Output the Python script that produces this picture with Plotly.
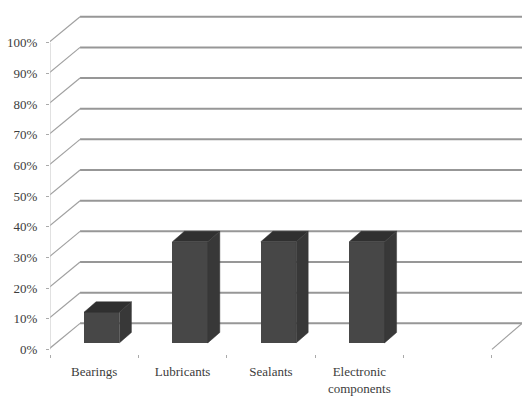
import plotly.graph_objects as go

# Data
categories = ["Bearings", "Lubricants", "Sealants", "Electronic<br>components"]
shares = [10, 33, 33, 33]
tick_values = [0, 10, 20, 30, 40, 50, 60, 70, 80, 90, 100]
tick_labels = [f"{v}%" for v in tick_values]

# Pseudo-3D geometry (in data units)
n_slots = 5            # category slots along the floor (last one empty)
depth_x = 0.34         # horizontal shift of the back wall
depth_y = 8.5          # vertical shift of the back wall
bar_width = 0.4
bar_front = 0.25       # depth fraction where the column front sits
bar_depth = 0.4        # depth fraction occupied by a column

FRONT = "#474747"
TOP = "#303030"
SIDE = "#383838"
GRID = "#979797"
TEXT = "#3c3c3c"

fig = go.Figure()

# Back-wall gridlines and side-wall diagonals
for v in tick_values:
    fig.add_shape(type="line", layer="below",
                  x0=depth_x, x1=n_slots + depth_x,
                  y0=v + depth_y, y1=v + depth_y,
                  line=dict(color=GRID, width=2))
    fig.add_shape(type="line", layer="below",
                  x0=-0.03, x1=depth_x, y0=v - 0.3, y1=v + depth_y,
                  line=dict(color="#a0a0a0", width=1.2))
# right edge of the floor
fig.add_shape(type="line", layer="below",
              x0=n_slots, x1=n_slots + depth_x, y0=0, y1=depth_y,
              line=dict(color="#a0a0a0", width=1.2))
# front vertical axis
fig.add_shape(type="line", layer="below",
              x0=0, x1=0, y0=0, y1=tick_values[-1],
              line=dict(color="#c4c4c4", width=1))

# Column front faces
centers = [i + 0.5 + bar_front * depth_x for i in range(len(categories))]
base = bar_front * depth_y
fig.add_trace(go.Bar(
    x=centers, y=shares, base=base, width=bar_width,
    marker=dict(color=FRONT, line=dict(width=0)),
    hoverinfo="skip", showlegend=False,
))

# Column top and side faces
dx = bar_depth * depth_x
dy = bar_depth * depth_y
for c, v in zip(centers, shares):
    xl, xr = c - bar_width / 2, c + bar_width / 2
    top = base + v
    fig.add_trace(go.Scatter(
        x=[xl, xr, xr + dx, xl + dx, xl],
        y=[top, top, top + dy, top + dy, top],
        fill="toself", fillcolor=TOP, mode="lines",
        line=dict(color=TOP, width=0.5),
        hoverinfo="skip", showlegend=False,
    ))
    fig.add_trace(go.Scatter(
        x=[xr, xr, xr + dx, xr + dx, xr],
        y=[base, top, top + dy, base + dy, base],
        fill="toself", fillcolor=SIDE, mode="lines",
        line=dict(color=SIDE, width=0.5),
        hoverinfo="skip", showlegend=False,
    ))

fig.update_layout(
    width=522, height=399,
    margin=dict(l=50, r=0, t=6, b=45),
    paper_bgcolor="white", plot_bgcolor="white",
    font=dict(family="Liberation Serif, DejaVu Serif, serif", size=13, color=TEXT),
    bargap=0,
)
fig.update_xaxes(
    range=[0, n_slots + depth_x],
    tickvals=[i + 0.5 for i in range(len(categories))],
    ticktext=categories,
    showgrid=False, zeroline=False, showline=False,
    ticks="", ticklabelstandoff=8,
    minor=dict(ticks="outside", ticklen=3, tickcolor="#aaaaaa",
               tick0=0, dtick=1, showgrid=False),
)
fig.update_yaxes(
    range=[-1.5, 112],
    tickvals=tick_values, ticktext=tick_labels,
    showgrid=False, zeroline=False, showline=False,
    ticks="outside", ticklen=3, tickcolor="#aaaaaa",
    ticklabelstandoff=6,
)

fig.write_html("out.html")
